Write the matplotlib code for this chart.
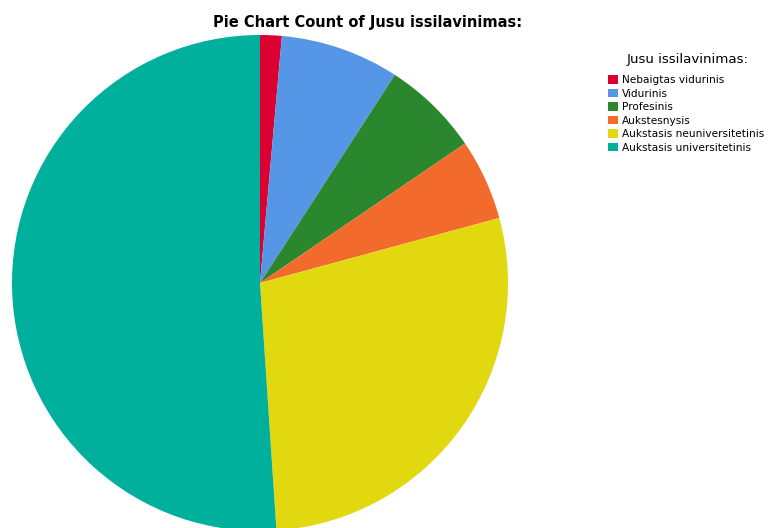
import matplotlib.pyplot as plt

labels = ['Nebaigtas vidurinis', 'Vidurinis', 'Profesinis', 'Aukstesnysis',
          'Aukstasis neuniversitetinis', 'Aukstasis universitetinis']
counts = [4, 22, 18, 15, 80, 145]
colors = ['#dc0032', '#5596e6', '#2a872e', '#f36a2d', '#e2d80f', '#00b09c']

fig = plt.figure(figsize=(7.71, 5.28), dpi=100)
ax = fig.add_axes([12 / 771, -3 / 528, 496 / 771, 496 / 528])
wedges, _ = ax.pie(counts, colors=colors, startangle=90, counterclock=False,
                   radius=1, wedgeprops=dict(linewidth=0))
ax.set_xlim(-1, 1)
ax.set_ylim(-1, 1)
ax.set_aspect('equal')
ax.axis('off')

fig.text(368 / 771, 1 - 22 / 528, 'Pie Chart Count of Jusu issilavinimas:',
         ha='center', va='center', fontsize=10.5, fontweight='bold')

# legend title drawn separately to get the wider gap
fig.text(688 / 771, 1 - 60 / 528, 'Jusu issilavinimas:', ha='center', va='center',
         fontsize=9.6)
leg = fig.legend(wedges, labels, loc='upper left',
                 bbox_to_anchor=(608 / 771, 1 - 75 / 528), frameon=False,
                 fontsize=7.6, handlelength=0.9, handleheight=0.9,
                 handletextpad=0.45, labelspacing=0.33, borderaxespad=0,
                 borderpad=0)

fig.savefig('out.png', dpi=100)
